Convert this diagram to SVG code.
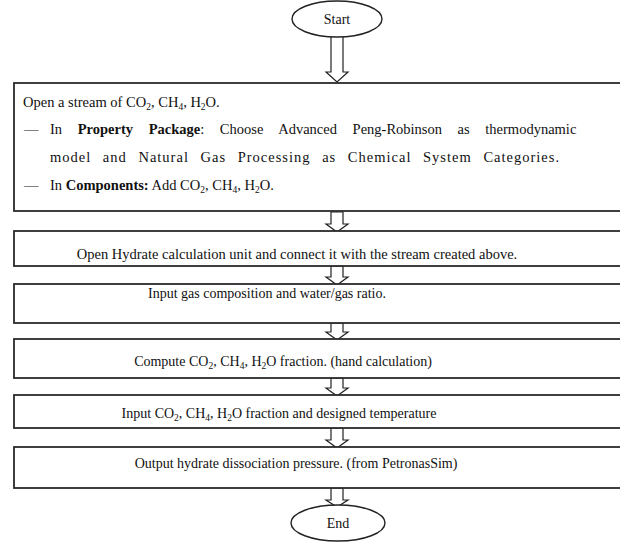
<svg xmlns="http://www.w3.org/2000/svg" width="620" height="542" viewBox="0 0 620 542">
<style>
.t{font-family:"Liberation Serif","Times New Roman",serif;font-size:14px;fill:#111}
.p{font-size:14.5px}
.m{text-anchor:middle}
.b{font-weight:bold}
.box{fill:#fff;stroke:#2a2a2a;stroke-width:1.8}
.arr{fill:#fff;stroke:#222;stroke-width:1.2;stroke-linejoin:miter}
.ell{fill:#fff;stroke:#222;stroke-width:1.4}
</style>
<rect width="620" height="542" fill="#fff"/>
<g id="connectors">
<polygon class="arr" points="331,36 343,36 343,72 348,72 337,82 326,72 331,72"/>
<polygon class="arr" points="331,212 343,212 343,224 348,224 337,232 326,224 331,224"/>
<polygon class="arr" points="331,266 343,266 343,277 348,277 337,285 326,277 331,277"/>
<polygon class="arr" points="331,323 343,323 343,332 348,332 337,340 326,332 331,332"/>
<polygon class="arr" points="331,378 343,378 343,388 348,388 337,396 326,388 331,388"/>
<polygon class="arr" points="331,428 343,428 343,440 348,440 337,448 326,440 331,440"/>
<polygon class="arr" points="331,488 343,488 343,500 348,500 337,507 326,500 331,500"/>
</g>
<g id="start">
<ellipse class="ell" cx="337" cy="19" rx="45" ry="18"/>
<text class="t m" x="337" y="24" font-size="15">Start</text>
</g>
<g id="step1">
<rect class="box" x="14" y="83" width="620" height="128"/>
<text class="t p" x="23" y="107">Open a stream of CO<tspan font-size="9.5" dy="3">2</tspan><tspan dy="-3">, CH</tspan><tspan font-size="9.5" dy="3">4</tspan><tspan dy="-3">, H</tspan><tspan font-size="9.5" dy="3">2</tspan><tspan dy="-3">O.</tspan></text>
<text class="t p" x="24" y="134">—</text>
<text class="t p" x="50" y="134" word-spacing="12">In <tspan class="b">Property Package</tspan>: Choose Advanced Peng-Robinson as thermodynamic</text>
<text class="t p" x="50" y="162" letter-spacing="1" word-spacing="7">model and Natural Gas Processing as Chemical System Categories.</text>
<text class="t p" x="24" y="190">—</text>
<text class="t p" x="50" y="190">In <tspan class="b">Components:</tspan> Add CO<tspan font-size="9.5" dy="3">2</tspan><tspan dy="-3">, CH</tspan><tspan font-size="9.5" dy="3">4</tspan><tspan dy="-3">, H</tspan><tspan font-size="9.5" dy="3">2</tspan><tspan dy="-3">O.</tspan></text>
</g>
<g id="step2">
<rect class="box" x="14" y="231" width="620" height="35"/>
<text class="t p m" x="297" y="259">Open Hydrate calculation unit and connect it with the stream created above.</text>
</g>
<g id="step3">
<rect class="box" x="14" y="284" width="620" height="39"/>
<text class="t m" x="267" y="298">Input gas composition and water/gas ratio.</text>
</g>
<g id="step4">
<rect class="box" x="14" y="339" width="620" height="39"/>
<text class="t m" x="283" y="366">Compute CO<tspan font-size="9.5" dy="3">2</tspan><tspan dy="-3">, CH</tspan><tspan font-size="9.5" dy="3">4</tspan><tspan dy="-3">, H</tspan><tspan font-size="9.5" dy="3">2</tspan><tspan dy="-3">O fraction. (hand calculation)</tspan></text>
</g>
<g id="step5">
<rect class="box" x="14" y="395" width="620" height="33"/>
<text class="t m" x="279" y="418">Input CO<tspan font-size="9.5" dy="3">2</tspan><tspan dy="-3">, CH</tspan><tspan font-size="9.5" dy="3">4</tspan><tspan dy="-3">, H</tspan><tspan font-size="9.5" dy="3">2</tspan><tspan dy="-3">O fraction and designed temperature</tspan></text>
</g>
<g id="step6">
<rect class="box" x="14" y="447" width="620" height="41"/>
<text class="t m" x="296" y="468">Output hydrate dissociation pressure. (from PetronasSim)</text>
</g>
<g id="end">
<ellipse class="ell" cx="338" cy="523" rx="47" ry="18"/>
<text class="t m" x="338" y="528" font-size="15">End</text>
</g>
</svg>
